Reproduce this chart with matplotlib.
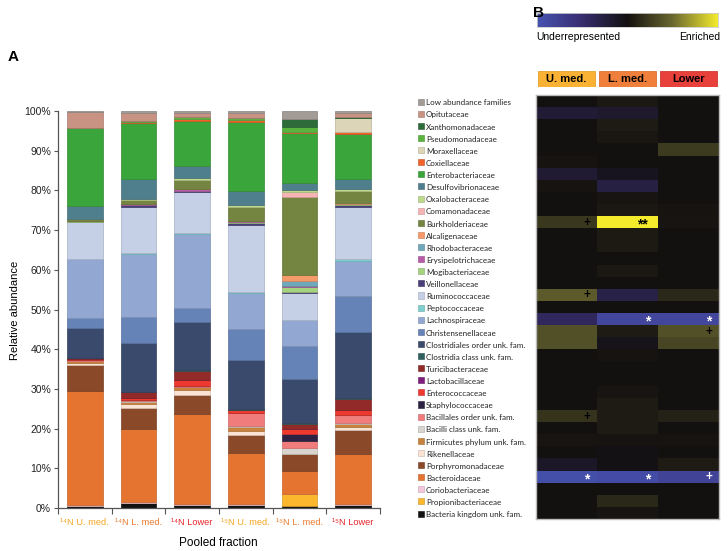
import numpy as np
import matplotlib
matplotlib.use("Agg")
import matplotlib.pyplot as plt
from matplotlib.colors import LinearSegmentedColormap, to_rgb
from matplotlib.patches import Rectangle

plt.rcParams['font.family'] = ['Liberation Sans', 'DejaVu Sans']

# ---------------- data ----------------
families = ["Low abundance families", "Opitutaceae", "Xanthomonadaceae", "Pseudomonadaceae",
            "Moraxellaceae", "Coxiellaceae", "Enterobacteriaceae", "Desulfovibrionaceae",
            "Oxalobacteraceae", "Comamonadaceae", "Burkholderiaceae", "Alcaligenaceae",
            "Rhodobacteraceae", "Erysipelotrichaceae", "Mogibacteriaceae", "Veillonellaceae",
            "Ruminococcaceae", "Peptococcaceae", "Lachnospiraceae", "Christensenellaceae",
            "Clostridiales order unk. fam.", "Clostridia class unk. fam.", "Turicibacteraceae",
            "Lactobacillaceae", "Enterococcaceae", "Staphylococcaceae", "Bacillales order unk. fam.",
            "Bacilli class unk. fam.", "Firmicutes phylum unk. fam.", "Rikenellaceae",
            "Porphyromonadaceae", "Bacteroidaceae", "Coriobacteriaceae", "Propionibacteriaceae",
            "Bacteria kingdom unk. fam."]

family_colors = ["#a39b96", "#c99384", "#2e6b3a", "#5bb33f", "#ddd5b8", "#f0642a", "#3aa53a",
                 "#4f7e8c", "#bcd98c", "#f7b4b4", "#738540", "#f59a6a", "#6fa8b8", "#b85ba8",
                 "#a5d37f", "#4a3f78", "#c5d0e6", "#7fcfcf", "#92a8d2", "#6683b8", "#3a4a6c",
                 "#2e6060", "#922a2a", "#7e1f7e", "#ee3a2e", "#2e2244", "#f07c7c", "#d8d4ce",
                 "#c8823e", "#fbe3d4", "#8a4a2a", "#e57431", "#f4c6dc", "#fbb82e", "#111111"]

samples = ["¹⁴N U. med.", "¹⁴N L. med.", "¹⁴N Lower", "¹⁵N U. med.", "¹⁵N L. med.", "¹⁵N Lower"]
sample_colors = ["#f5a623", "#ee7b30", "#e8262a", "#f5a623", "#ee7b30", "#e8262a"]

# relative abundance (%) per family, in legend order (top -> bottom)
n14_umed = [0.3, 3.9, 0.0, 0.1, 0.0, 0.1, 19.6, 3.1, 0.2, 0.0, 0.3, 0.1, 0.0, 0.0, 0.2, 0.1,
            9.3, 0.1, 14.7, 2.6, 7.4, 0.1, 0.2, 0.0, 0.4, 0.0, 0.1, 0.1, 0.6, 0.5, 6.4, 28.7,
            0.2, 0.0, 0.6]
n14_lmed = [0.6, 2.0, 0.0, 0.2, 0.0, 0.3, 14.0, 5.1, 0.3, 0.0, 0.9, 0.1, 0.0, 0.1, 0.2, 0.5,
            11.5, 0.1, 15.9, 6.6, 12.3, 0.2, 1.3, 0.1, 0.5, 0.0, 0.3, 0.1, 0.7, 1.0, 5.1, 18.4,
            0.3, 0.0, 1.3]
n14_lower = [0.6, 1.0, 0.0, 0.3, 0.0, 0.6, 11.4, 3.0, 0.4, 0.1, 2.2, 0.1, 0.0, 0.4, 0.1, 0.2,
             10.4, 0.2, 18.7, 3.4, 12.1, 0.2, 2.3, 0.1, 1.4, 0.0, 0.3, 0.1, 0.8, 1.1, 4.7, 22.7,
             0.3, 0.0, 0.8]
n15_umed = [0.6, 1.2, 0.0, 0.4, 0.0, 0.5, 17.5, 3.5, 0.4, 0.0, 3.6, 0.1, 0.0, 0.1, 0.4, 0.4,
            16.9, 0.3, 9.1, 7.6, 12.5, 0.1, 0.1, 0.0, 0.8, 0.0, 3.3, 0.1, 1.1, 0.9, 4.6, 12.8,
            0.3, 0.0, 0.8]
n15_lmed = [2.1, 0.0, 2.0, 1.2, 0.0, 0.3, 12.6, 1.7, 0.5, 1.2, 19.8, 1.3, 1.4, 0.3, 1.2, 0.3,
            6.7, 0.0, 6.5, 8.5, 11.0, 0.3, 1.1, 0.0, 1.4, 1.8, 1.7, 1.5, 0.0, 0.0, 4.4, 5.7,
            0.0, 2.9, 0.6]
n15_lower = [0.6, 0.8, 0.4, 0.0, 3.4, 0.7, 11.3, 2.5, 0.4, 0.0, 3.1, 0.1, 0.0, 0.1, 0.2, 0.5,
             13.3, 0.3, 8.9, 9.0, 16.8, 0.2, 2.6, 0.1, 1.2, 0.0, 2.2, 0.1, 0.8, 0.8, 5.9, 12.6,
             0.3, 0.0, 0.8]

# heatmap: enrichment score per family (legend order), columns U. med., L. med., Lower
heat_cols = ["U. med.", "L. med.", "Lower"]
heat_col_colors = ["#f9b233", "#f07f3c", "#e8403a"]
heat_umed = [0.0, -0.2, 0.0, 0.0, 0.0, 0.02, -0.18, 0.02, 0.0, 0.0, 0.22, 0.0, 0.0, 0.0, 0.0, 0.0,
             0.42, 0.0, -0.42, 0.36, 0.36, 0.0, 0.0, 0.0, 0.0, 0.0, 0.2, 0.0, 0.03, 0.0, -0.12,
             -0.95, 0.0, 0.0, 0.0]
heat_lmed = [0.05, -0.16, 0.07, 0.04, 0.0, 0.0, -0.08, -0.28, 0.03, 0.05, 1.0, 0.06, 0.06, 0.0,
             0.05, 0.0, -0.3, 0.0, -0.85, 0.07, -0.06, 0.02, 0.0, 0.0, 0.03, 0.07, 0.07, 0.07,
             0.02, -0.03, -0.03, -0.9, 0.0, 0.14, 0.03]
heat_lower = [0.0, 0.0, 0.0, 0.0, 0.24, 0.0, 0.0, 0.0, 0.0, 0.02, 0.03, 0.0, 0.0, 0.0, 0.0, 0.0,
              0.14, 0.0, -0.85, 0.36, 0.3, 0.0, 0.0, 0.0, 0.0, 0.0, 0.1, 0.0, 0.02, 0.0, 0.07,
              -0.8, 0.0, 0.0, 0.0]
annot_rows = [10, 10, 16, 18, 18, 19, 26, 31, 31, 31]
annot_cols = [0, 1, 0, 1, 2, 2, 0, 0, 1, 2]
annot_text = ["+", "**", "+", "*", "*", "+", "+", "*", "*", "+"]
annot_color = ["black", "black", "black", "white", "white", "black", "black", "white", "white", "white"]

# ---------------- figure ----------------
W, H = 728, 551
fig = plt.figure(figsize=(W / 100, H / 100), dpi=100)


def rect(l, t, r, b):
    return [l / W, 1 - b / H, (r - l) / W, (b - t) / H]


# ----- Panel A: stacked bars -----
ax = fig.add_axes(rect(58, 111, 380, 508))
bars_data = np.array([n14_umed, n14_lmed, n14_lower, n15_umed, n15_lmed, n15_lower]) / 100.0
x = np.arange(len(samples))
bottom = np.zeros(len(samples))
for i in range(len(families) - 1, -1, -1):
    vals = bars_data[:, i]
    c = np.array(to_rgb(family_colors[i]))
    ax.bar(x, vals, width=0.66, bottom=bottom, color=c, edgecolor=c * 0.85, linewidth=0.5)
    bottom += vals

ax.set_xlim(-0.5, 5.5)
ax.set_ylim(0, 1.0)
ax.set_yticks(np.arange(0, 1.01, 0.1))
ax.set_yticklabels([f"{int(round(v * 100))}%" for v in np.arange(0, 1.01, 0.1)], fontsize=7.5, color="#222222")
ax.set_xticks(np.arange(-0.5, 5.6, 1.0))
ax.set_xticklabels([])
ax.set_xticks(x, minor=True)
ax.set_xticklabels(samples, minor=True, fontsize=6.7)
for lbl, col in zip(ax.get_xticklabels(minor=True), sample_colors):
    lbl.set_color(col)
ax.tick_params(axis="x", which="minor", length=0, pad=7)
ax.tick_params(axis="x", which="major", length=4, width=0.8, color="#555555")
ax.tick_params(axis="y", length=3, width=0.8, color="#555555", pad=2)
for s in ["top", "right"]:
    ax.spines[s].set_visible(False)
for s in ["left", "bottom"]:
    ax.spines[s].set_color("#555555")
    ax.spines[s].set_linewidth(0.9)

fig.text(15 / W, 1 - 310 / H, "Relative abundance", rotation=90, ha="center", va="center", fontsize=8)
fig.text(218 / W, 1 - 543 / H, "Pooled fraction", ha="center", va="center", fontsize=8.5)
fig.text(8 / W, 1 - 57 / H, "A", ha="left", va="center", fontsize=11, fontweight="bold")
fig.text(533 / W, 1 - 13 / H, "B", ha="left", va="center", fontsize=11, fontweight="bold")

# ----- Legend -----
lax = fig.add_axes(rect(410, 95, 536, 519))
lax.set_xlim(0, 126)
lax.set_ylim(len(families), 0)
lax.axis("off")
for i, (name, col) in enumerate(zip(families, family_colors)):
    c = np.array(to_rgb(col))
    lax.add_patch(Rectangle((8, i + 0.5 - 0.2), 6, 0.5, facecolor=c, edgecolor=c * 0.8, linewidth=0.4))
    lax.text(16, i + 0.65, name, fontsize=5.8, va="center", ha="left", family=["Lato", "DejaVu Sans"],
             color="#222222")

# ----- Heatmap -----
cmap = LinearSegmentedColormap.from_list(
    "enr", [(0.0, "#4653b0"), (0.22, "#3b3178"), (0.5, "#131010"), (0.75, "#6a6830"), (1.0, "#f3eb2c")])
hax = fig.add_axes(rect(536, 95, 719, 519))
heat = np.column_stack([heat_umed, heat_lmed, heat_lower])
hax.imshow(heat, cmap=cmap, vmin=-1, vmax=1, aspect="auto", interpolation="nearest")
hax.set_xticks([])
hax.set_yticks([])
for s in hax.spines.values():
    s.set_color("#bbbbbb")
    s.set_linewidth(1.0)
for r, c, t, col in zip(annot_rows, annot_cols, annot_text, annot_color):
    is_star = t.startswith("*")
    off = 0.25 if len(t) > 1 else 0.17
    hax.text(c + 0.5 - off, r + 0.22 if is_star else r + 0.05, t, ha="center", va="center",
             fontsize=10 if is_star else 8.5, fontweight="bold", color=col)

# header boxes
tax = fig.add_axes(rect(536, 71, 719, 87))
tax.set_xlim(0, 3)
tax.set_ylim(0, 1)
tax.axis("off")
for i, (name, col) in enumerate(zip(heat_cols, heat_col_colors)):
    c = np.array(to_rgb(col))
    tax.add_patch(Rectangle((i + 0.03, 0.0), 0.94, 1.0, facecolor=c, edgecolor=c * 0.9, linewidth=0.6))
    tax.text(i + 0.5, 0.47, name, ha="center", va="center", fontsize=8, fontweight="bold", color="black")

# colorbar
cax = fig.add_axes(rect(537, 13, 718, 27))
grad = np.linspace(-1, 1, 256).reshape(1, -1)
cax.imshow(grad, cmap=cmap, vmin=-1, vmax=1, aspect="auto")
cax.set_xticks([])
cax.set_yticks([])
for s in cax.spines.values():
    s.set_color("#cccccc")
    s.set_linewidth(0.6)
fig.text(536 / W, 1 - 37 / H, "Underrepresented", ha="left", va="center", fontsize=7.5)
fig.text(720 / W, 1 - 37 / H, "Enriched", ha="right", va="center", fontsize=7.5)

fig.savefig("out.png", dpi=100)
